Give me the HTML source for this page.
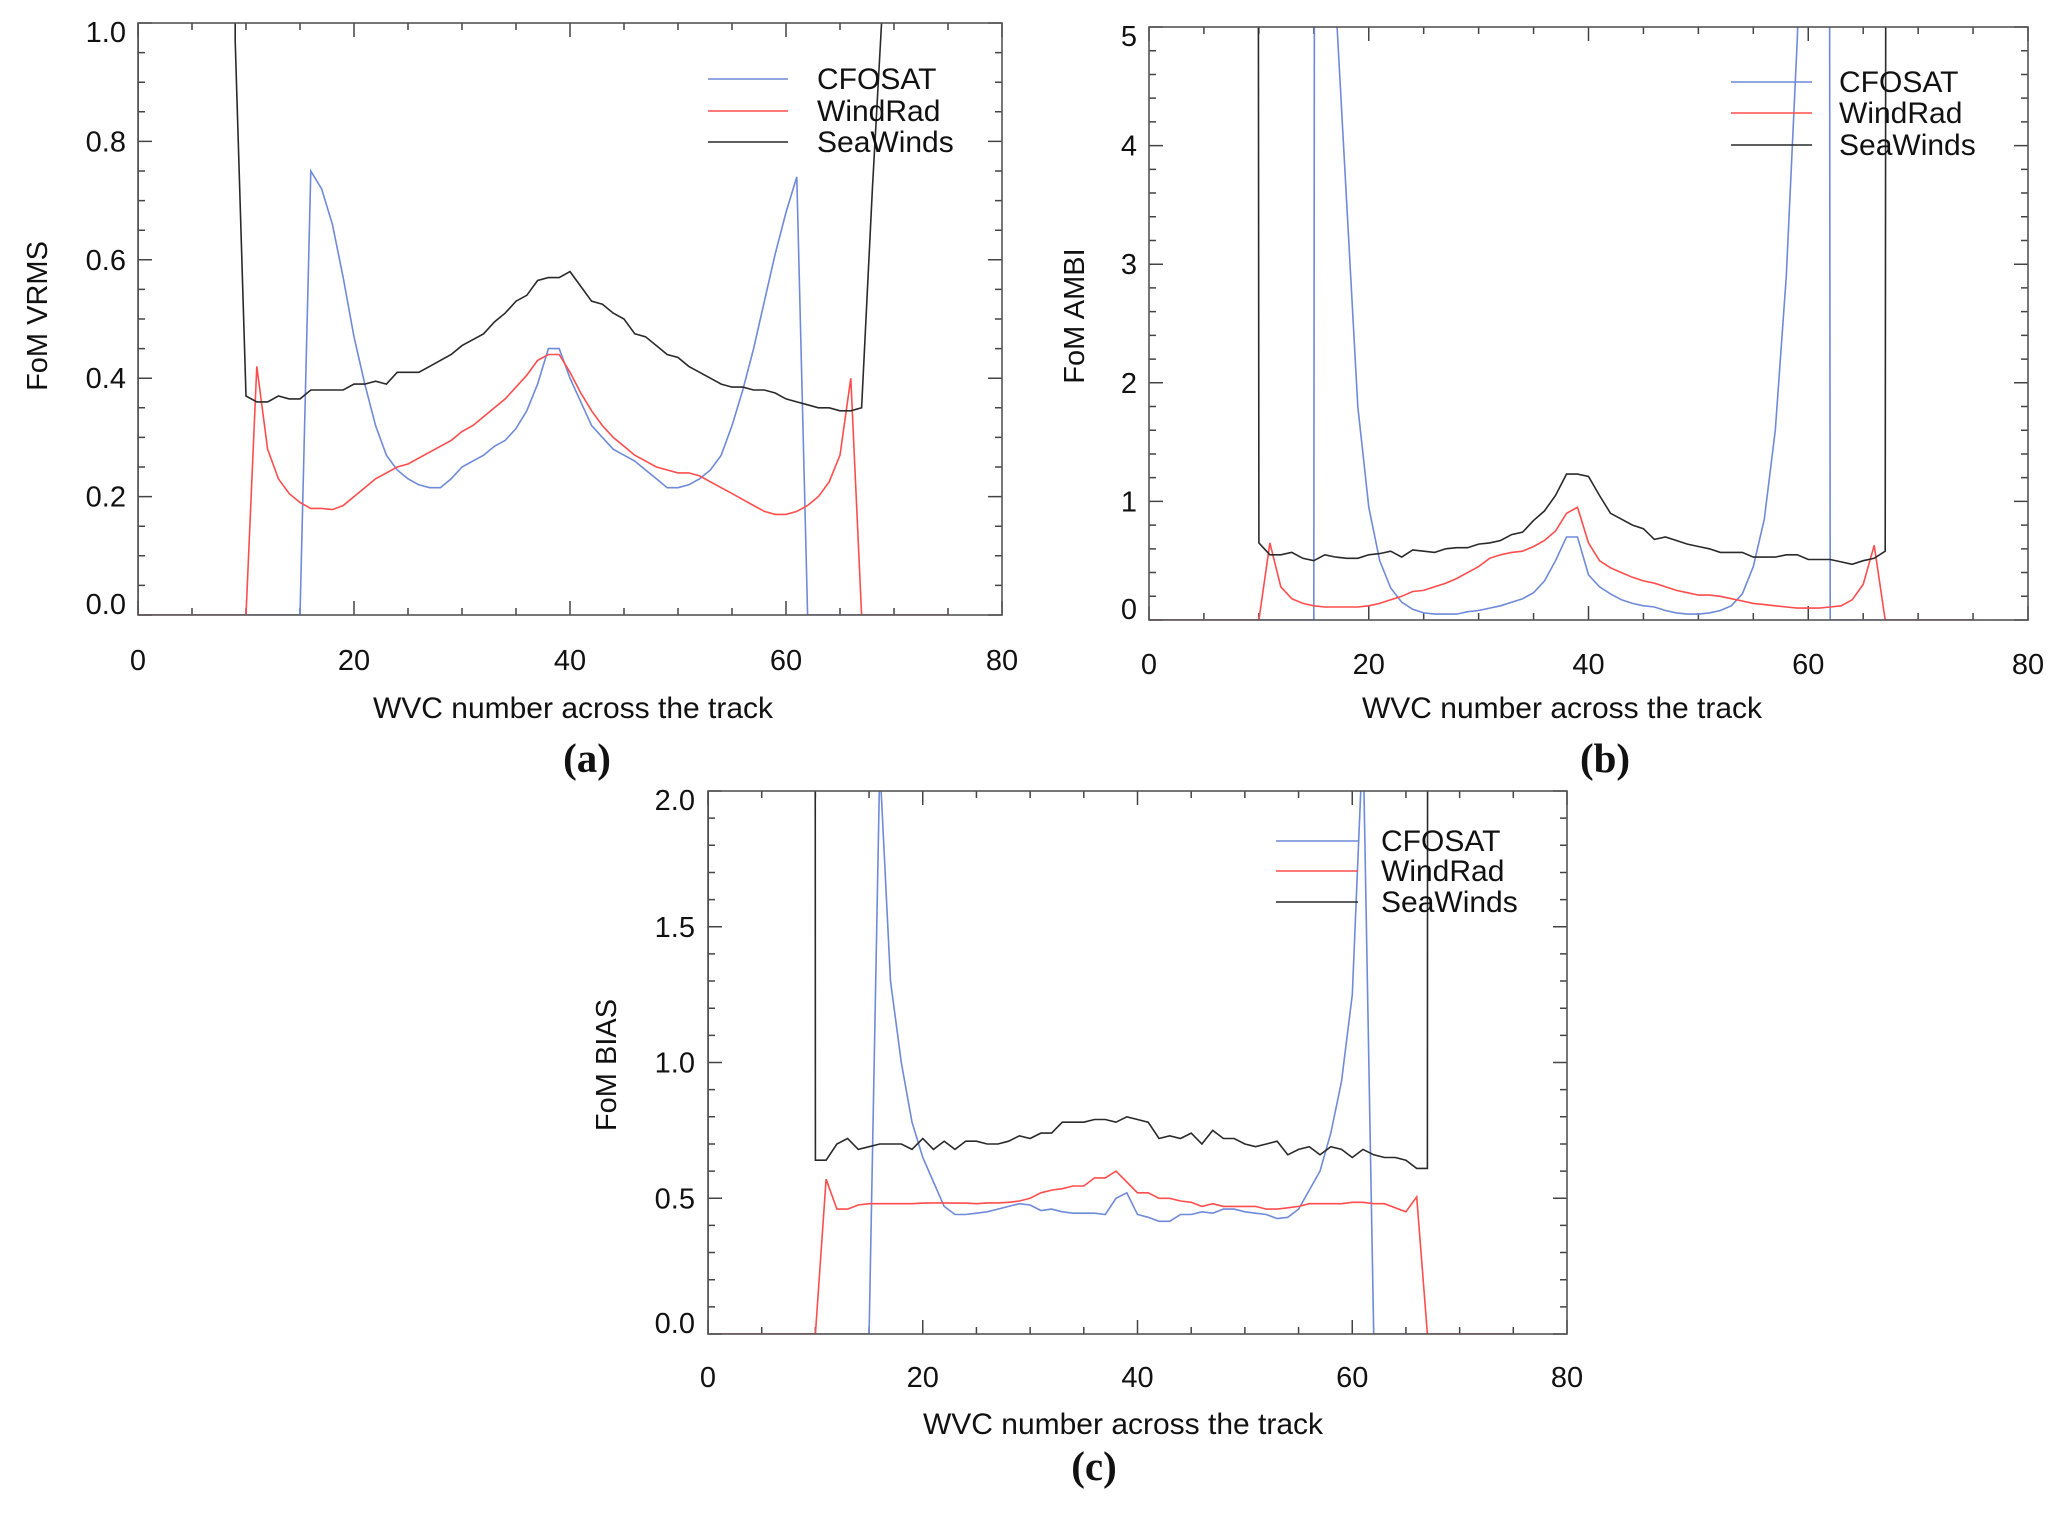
<!DOCTYPE html>
<html><head><meta charset="utf-8">
<style>
html,body{margin:0;padding:0;background:#fff;}
svg text{font-family:"Liberation Sans",sans-serif;fill:#111;}
.pl{font-family:"Liberation Serif",serif;font-weight:bold;}
</style></head>
<body>
<svg id="fig" width="2067" height="1514" viewBox="0 0 2067 1514" xmlns="http://www.w3.org/2000/svg"></svg>
<script>
// WVC index 0..75 ; 99 = off-scale
const aCFOSAT = [0,0,0,0,0,0,0,0,0,0,0,0,0,0,0,0,
0.75,0.72,0.66,0.57,0.47,0.39,0.32,0.27,0.245,0.23,
0.22,0.215,0.215,0.23,0.25,0.26,0.27,0.285,0.295,0.315,
0.345,0.39,0.45,0.45,0.40,0.36,0.32,0.3,0.28,0.27,
0.26,0.245,0.23,0.215,0.215,0.22,0.23,0.245,0.27,0.32,
0.38,0.45,0.53,0.61,0.68,0.74,
0,0,0,0,0,0,0,0,0,0,0,0,0,0];
const aWindRad = [0,0,0,0,0,0,0,0,0,0,0,
0.42,0.28,0.23,0.205,0.19,0.18,0.18,0.178,0.185,0.2,
0.215,0.23,0.24,0.25,0.255,0.265,0.275,0.285,0.295,0.31,
0.32,0.335,0.35,0.365,0.385,0.405,0.43,0.44,0.44,0.41,
0.375,0.345,0.32,0.3,0.285,0.27,0.26,0.25,0.245,0.24,
0.24,0.235,0.225,0.215,0.205,0.195,0.185,0.175,0.17,0.17,
0.175,0.185,0.2,0.225,0.27,0.4,
0,0,0,0,0,0,0,0,0];
const aSeaWinds = [0,99,99,99,99,99,99,99,99,0.97,
0.37,0.36,0.36,0.37,0.365,0.365,0.38,0.38,0.38,0.38,
0.39,0.39,0.395,0.39,0.41,0.41,0.41,0.42,0.43,0.44,
0.455,0.465,0.475,0.495,0.51,0.53,0.54,0.565,0.57,0.57,
0.58,0.555,0.53,0.525,0.51,0.5,0.475,0.47,0.455,0.44,
0.435,0.42,0.41,0.4,0.39,0.385,0.385,0.38,0.38,0.375,
0.365,0.36,0.355,0.35,0.35,0.345,0.345,0.35,0.72,1.05,
99,99,99,99,99,99];

const bCFOSAT = [0,0,0,0,0,0,0,0,0,0,0,0,0,0,0,0,
99,5.2,3.5,1.8,0.95,0.5,0.27,0.15,0.09,0.06,
0.05,0.05,0.05,0.07,0.08,0.1,0.12,0.15,0.18,0.23,
0.33,0.5,0.7,0.7,0.38,0.28,0.22,0.17,0.14,0.12,
0.11,0.08,0.06,0.05,0.05,0.06,0.08,0.12,0.22,0.45,
0.85,1.6,2.9,4.9,8,99,
0,0,0,0,0,0,0,0,0,0,0,0,0,0];
const bWindRad = [0,0,0,0,0,0,0,0,0,0,0,
0.65,0.28,0.18,0.14,0.12,0.11,0.11,0.11,0.11,0.12,
0.14,0.17,0.2,0.24,0.25,0.28,0.31,0.35,0.4,0.45,
0.52,0.55,0.57,0.58,0.62,0.67,0.75,0.9,0.95,0.65,
0.5,0.44,0.4,0.36,0.33,0.31,0.28,0.25,0.23,0.21,
0.21,0.2,0.18,0.16,0.14,0.13,0.12,0.11,0.1,0.1,
0.1,0.11,0.12,0.17,0.3,0.63,
0,0,0,0,0,0,0,0,0];
const bSeaWinds = [99,99,99,99,99,99,99,99,99,99,
0.65,0.55,0.55,0.57,0.52,0.5,0.55,0.53,0.52,0.52,
0.55,0.56,0.58,0.53,0.59,0.58,0.57,0.6,0.61,0.61,
0.64,0.65,0.67,0.72,0.74,0.84,0.92,1.05,1.23,1.23,
1.21,1.05,0.9,0.85,0.8,0.77,0.68,0.7,0.67,0.64,
0.62,0.6,0.57,0.57,0.57,0.53,0.53,0.53,0.55,0.55,
0.51,0.51,0.51,0.49,0.47,0.5,0.52,0.58,99,99,
99,99,99,99,99,99];

const cCFOSAT = [0,0,0,0,0,0,0,0,0,0,0,0,0,0,0,0,
2.1,1.3,1.0,0.78,0.65,0.56,0.47,0.44,0.44,0.445,
0.45,0.46,0.47,0.48,0.475,0.455,0.46,0.45,0.445,0.445,
0.445,0.44,0.5,0.52,0.44,0.43,0.415,0.415,0.44,0.44,
0.45,0.445,0.46,0.46,0.45,0.445,0.44,0.425,0.43,0.46,
0.53,0.6,0.74,0.93,1.25,2.2,
0,0,0,0,0,0,0,0,0,0,0,0,0,0];
const cWindRad = [0,0,0,0,0,0,0,0,0,0,0,
0.57,0.46,0.46,0.475,0.48,0.48,0.48,0.48,0.48,0.482,
0.483,0.483,0.482,0.482,0.48,0.483,0.483,0.485,0.49,0.5,
0.52,0.53,0.535,0.545,0.545,0.575,0.575,0.6,0.56,0.52,
0.52,0.5,0.5,0.49,0.485,0.47,0.48,0.47,0.47,0.47,
0.47,0.46,0.46,0.465,0.47,0.48,0.48,0.48,0.48,0.485,
0.485,0.48,0.48,0.465,0.45,0.505,
0,0,0,0,0,0,0,0,0];
const cSeaWinds = [0,99,99,99,99,99,99,99,99,99,
0.64,0.64,0.7,0.72,0.68,0.69,0.7,0.7,0.7,0.68,
0.72,0.68,0.71,0.68,0.71,0.71,0.7,0.7,0.71,0.73,
0.72,0.74,0.74,0.78,0.78,0.78,0.79,0.79,0.78,0.8,
0.79,0.78,0.72,0.73,0.72,0.74,0.7,0.75,0.72,0.72,
0.7,0.69,0.7,0.71,0.66,0.68,0.69,0.66,0.69,0.68,
0.65,0.68,0.66,0.65,0.65,0.64,0.61,0.61,99,99,
99,99,99,99,99,99];

const seriesNames = ["CFOSAT","WindRad","SeaWinds"];
const seriesColors = ["#6f8ad8","#ff4d4d","#2a2a2a"];
const xTicks = [0,20,40,60,80];
const aYTicks = ["0.0","0.2","0.4","0.6","0.8","1.0"];
const bYTicks = ["0","1","2","3","4","5"];
const cYTicks = ["0.0","0.5","1.0","1.5","2.0"];

const NS="http://www.w3.org/2000/svg";
const svg=document.getElementById('fig');
function mk(tag,attrs,parent){const e=document.createElementNS(NS,tag);for(const k in attrs)e.setAttribute(k,attrs[k]);(parent||svg).appendChild(e);return e;}

const panels=[
 {id:'a',L:138,R:1002,T:23,B:615,ymax:1,ymin:0,yTicks:aYTicks,yMinor:0.05,data:[aCFOSAT,aWindRad,aSeaWinds],
  ytitle:'FoM VRMS',ytx:37,yty:316,xtx:573,xty:718,lab:'(a)',lx:587,ly:772,tickR:126,xlabY:670,
  leg:{x1:708,x2:788,ys:[79,111,142],tx:817}},
 {id:'b',L:1149,R:2028,T:27,B:620,ymax:5,ymin:0,yTicks:bYTicks,yMinor:0.2,data:[bCFOSAT,bWindRad,bSeaWinds],
  ytitle:'FoM AMBI',ytx:1074,yty:316,xtx:1562,xty:718,lab:'(b)',lx:1605,ly:772,tickR:1137,xlabY:674,
  leg:{x1:1731,x2:1812,ys:[82,113,145],tx:1839}},
 {id:'c',L:708,R:1567,T:791,B:1334,ymax:2,ymin:0,yTicks:cYTicks,yMinor:0.1,data:[cCFOSAT,cWindRad,cSeaWinds],
  ytitle:'FoM BIAS',ytx:606,yty:1065,xtx:1123,xty:1434,lab:'(c)',lx:1094,ly:1480,tickR:695,xlabY:1387,
  leg:{x1:1276,x2:1358,ys:[841,871,902],tx:1381}}
];

panels.forEach(p=>{
  const g=mk('g',{});
  
  
  const xs=v=>p.L+(v-0)/80*(p.R-p.L);
  const ys=v=>p.B-(v-p.ymin)/(p.ymax-p.ymin)*(p.B-p.T);
  const cp=mk('clipPath',{id:'clip'+p.id},g);
  mk('rect',{x:p.L,y:p.T,width:p.R-p.L,height:p.B-p.T},cp);
  let d='';
  for(let v=0;v<=80;v+=5){const x=xs(v);const len=(v%20===0)?14:7;d+=`M${x},${p.B}v${-len}M${x},${p.T}v${len}`;}
  const n=Math.round((p.ymax-p.ymin)/p.yMinor);
  const majorStep=(p.ymax-p.ymin)/(p.yTicks.length-1);
  for(let i=0;i<=n;i++){const v=p.ymin+i*p.yMinor;const y=ys(v);const maj=Math.abs(v/majorStep-Math.round(v/majorStep))<1e-6;const len=maj?14:7;d+=`M${p.L},${y}h${len}M${p.R},${y}h${-len}`;}
  const tk=mk('path',{d:d,stroke:'#444','stroke-width':1.5,fill:'none'},g);
  
  
  p.data.forEach((arr,si)=>{
    const pts=arr.map((v,i)=>xs(i).toFixed(1)+','+ys(v).toFixed(1)).join(' ');
    const pl=mk('polyline',{points:pts,fill:'none',stroke:seriesColors[si],'stroke-width':1.6,'clip-path':'url(#clip'+p.id+')'},g);
    
    
  });
  const fr=mk('rect',{x:p.L,y:p.T,width:p.R-p.L,height:p.B-p.T,fill:'none',stroke:'#555','stroke-width':1.6},g);
  
  
  xTicks.forEach(v=>{
    const t=mk('text',{x:xs(v),y:p.xlabY,'font-size':29,'text-anchor':'middle'},g);t.textContent=v;
    
    
  });
  p.yTicks.forEach((lbl,i)=>{
    const v=p.ymin+i*majorStep;
    let y=ys(v)+10; if(i===0)y=ys(v)-1; if(i===p.yTicks.length-1)y=ys(v)+19;
    const t=mk('text',{x:p.tickR,y:y,'font-size':29,'text-anchor':'end'},g);t.textContent=lbl;
    
    
  });
  const xt=mk('text',{x:p.xtx,y:p.xty,'font-size':30,'text-anchor':'middle'},g);xt.textContent='WVC number across the track';
  
  
  const yt=mk('text',{x:p.ytx,y:p.yty,'font-size':29,'text-anchor':'middle',transform:`rotate(-90 ${p.ytx} ${p.yty})`,dy:10},g);yt.textContent=p.ytitle;
  
  
  const lb=mk('text',{x:p.lx,y:p.ly,'font-size':41,'text-anchor':'middle',class:'pl'},g);lb.textContent=p.lab;
  
  
  seriesNames.forEach((nm,si)=>{
    const y=p.leg.ys[si];
    const ln=mk('line',{x1:p.leg.x1,x2:p.leg.x2,y1:y,y2:y,stroke:seriesColors[si],'stroke-width':1.6},g);
    
    
    const t=mk('text',{x:p.leg.tx,y:y+10,'font-size':30},g);t.textContent=nm;
    
    
  });
});
</script>
</body></html>
